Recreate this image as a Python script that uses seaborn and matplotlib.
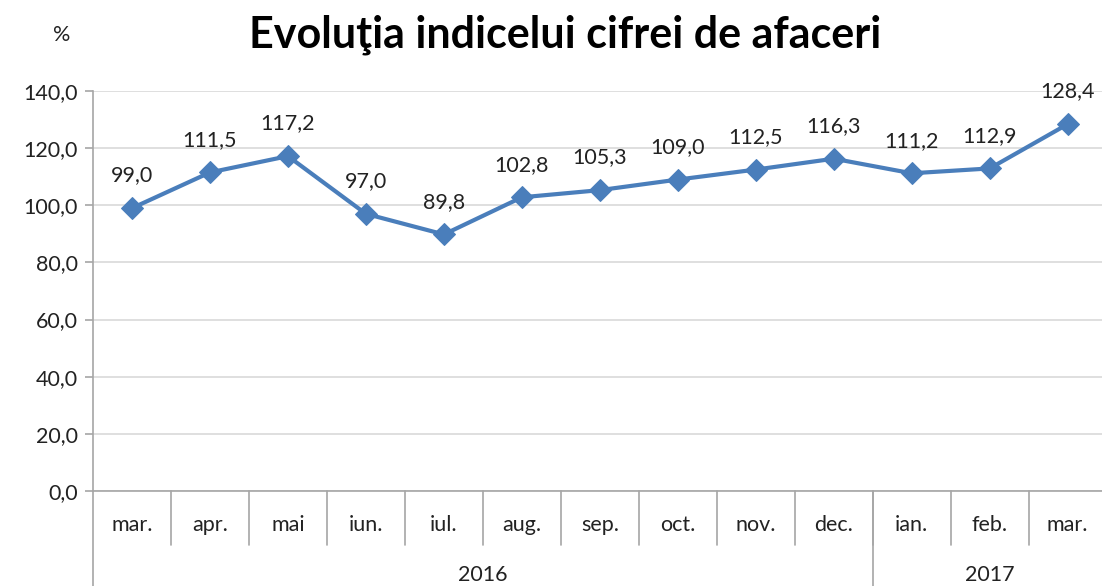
import matplotlib
matplotlib.use("Agg")
import matplotlib.pyplot as plt
import matplotlib.transforms as mtransforms
import seaborn as sns
import pandas as pd

months = ["mar.", "apr.", "mai", "iun.", "iul.", "aug.", "sep.", "oct.", "nov.", "dec.", "ian.", "feb.", "mar."]
values = [99.0, 111.5, 117.2, 97.0, 89.8, 102.8, 105.3, 109.0, 112.5, 116.3, 111.2, 112.9, 128.4]
years = ["2016", "2017"]
year_counts = [10, 3]
yticks = [0, 20, 40, 60, 80, 100, 120, 140]

sns.set_theme(style="white")
plt.rcParams["font.family"] = ["Lato", "DejaVu Sans"]

W, H = 1102, 586
fig = plt.figure(figsize=(W / 100, H / 100), dpi=100)
left, right, top, bottom = 93, 1102, 91, 491
ax = fig.add_axes([left / W, 1 - bottom / H, (right - left) / W, (bottom - top) / H])

df = pd.DataFrame({"x": range(len(values)), "v": values})
blue = "#4A7EBB"
sns.lineplot(data=df, x="x", y="v", ax=ax, color=blue, linewidth=3,
             marker="D", markersize=11, markeredgecolor=blue, markerfacecolor=blue)

FS = 15.5
ax.set_ylim(0, 140)
ax.set_xlim(-0.5, 12.44)
ax.set_yticks(yticks)
ax.set_yticklabels([f"{t:.1f}".replace(".", ",") for t in yticks], fontsize=FS, color="#222222")
ax.set_xticks([])
ax.set_xlabel("")
ax.set_ylabel("")
ax.grid(axis="y", color="#D9D9D9", linewidth=1.2)
ax.set_axisbelow(True)
for s in ["top", "right"]:
    ax.spines[s].set_visible(False)
ax.spines["left"].set_color("#A6A6A6")
ax.spines["bottom"].set_color("#A6A6A6")
ax.spines["left"].set_linewidth(1.2)
ax.spines["bottom"].set_linewidth(1.2)
ax.tick_params(axis="y", which="major", length=6, width=1.2, color="#A6A6A6", direction="out", pad=5, left=True)

# data labels
for i, v in enumerate(values):
    ax.annotate(f"{v:.1f}".replace(".", ","), (i, v), xytext=(0, 23.5), textcoords="offset points",
                ha="center", va="center", fontsize=FS, color="#222222")

# category axis labels and separators
trans = mtransforms.blended_transform_factory(ax.transData, ax.transAxes)
px = 1.0 / (bottom - top)
for i, m in enumerate(months):
    ax.text(i, -(525 - bottom) * px, m, transform=trans, ha="center", va="center",
            fontsize=FS, color="#222222", clip_on=False)
for i in range(1, len(months)):
    ax.plot([i - 0.5, i - 0.5], [0, -(545 - bottom) * px], transform=trans, color="#A6A6A6",
            linewidth=1.2, clip_on=False)

start = 0
for y, c in zip(years, year_counts):
    center = start + (c - 1) / 2
    ax.text(center, -(575 - bottom) * px, y, transform=trans, ha="center", va="center",
            fontsize=FS, color="#222222", clip_on=False)
    ax.plot([start - 0.5, start - 0.5], [0, -(H - bottom + 5) * px], transform=trans,
            color="#A6A6A6", linewidth=1.2, clip_on=False)
    start += c

fig.text(565 / W, 1 - 35 / H, "Evoluţia indicelui cifrei de afaceri", ha="center", va="center",
         fontsize=31, fontweight="bold", color="black")
fig.text(62 / W, 1 - 35 / H, "%", ha="center", va="center", fontsize=FS, color="#222222")

fig.savefig("out.png", dpi=100)
